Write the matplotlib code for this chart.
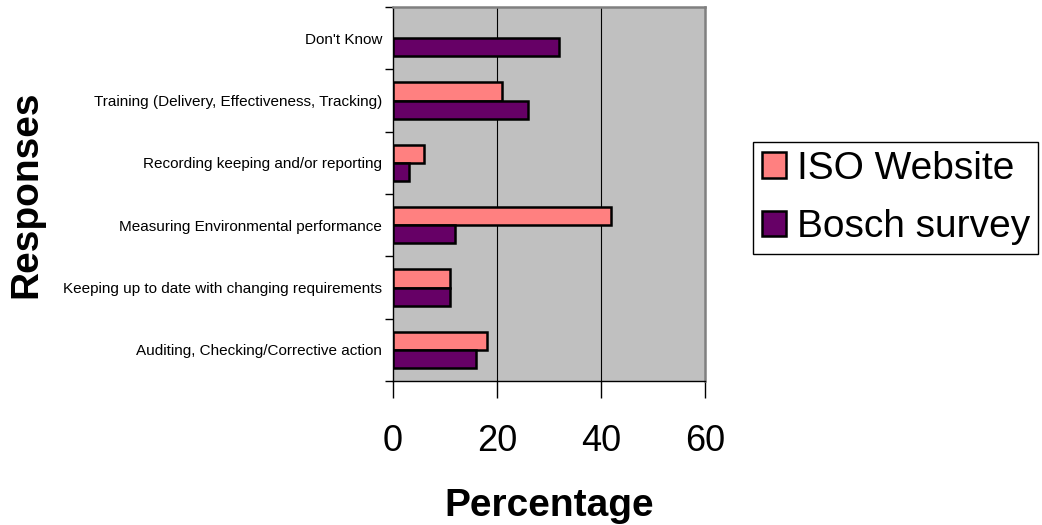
import numpy as np
import matplotlib
matplotlib.use("Agg")
import matplotlib.pyplot as plt
from matplotlib.patches import Patch

plt.rcParams['font.family'] = ['Liberation Sans', 'DejaVu Sans']

# Response categories, listed bottom to top
categories = [
    "Auditing, Checking/Corrective action",
    "Keeping up to date with changing requirements",
    "Measuring Environmental performance",
    "Recording keeping and/or reporting",
    "Training (Delivery, Effectiveness, Tracking)",
    "Don't Know",
]
iso_website = [18, 11, 42, 6, 21, np.nan]
bosch_survey = [16, 11, 12, 3, 26, 32]
series_names = ["ISO Website", "Bosch survey"]
x_ticks = [0, 20, 40, 60]

iso_color = "#FF8080"
bosch_color = "#660066"

fig = plt.figure(figsize=(10.42, 5.25), dpi=100)
W, H = 1042, 525
left, right, top, bottom = 393, 705, 7, 381
ax = fig.add_axes([left / W, 1 - bottom / H, (right - left) / W, (bottom - top) / H])
ax.set_facecolor("#C0C0C0")

y = np.arange(len(categories))
bh = 0.29
ax.barh(y + bh / 2, iso_website, height=bh, color=iso_color,
        edgecolor="black", linewidth=1.8, zorder=3)
ax.barh(y - bh / 2, bosch_survey, height=bh, color=bosch_color,
        edgecolor="black", linewidth=1.8, zorder=3)

ax.set_xlim(0, 60)
ax.set_ylim(-0.5, len(categories) - 0.5)

# vertical gridlines
for gx in x_ticks[1:-1]:
    ax.axvline(gx, color="black", linewidth=0.8, zorder=1)

# spines
for s in ("left", "bottom"):
    ax.spines[s].set_color("black")
    ax.spines[s].set_linewidth(1.0)
for s in ("top", "right"):
    ax.spines[s].set_color("#808080")
    ax.spines[s].set_linewidth(1.8)

# x axis
ax.set_xticks(x_ticks)
ax.set_xticklabels([str(v) for v in x_ticks], fontsize=26)
ax.tick_params(axis="x", direction="out", length=12, width=1.0, pad=19)

# y axis: ticks at category boundaries, labels centered between them
ax.set_yticks(np.arange(len(categories) + 1) - 0.5)
ax.set_yticklabels([])
ax.set_yticks(y, minor=True)
ax.set_yticklabels(categories, minor=True, fontsize=11)
ax.tick_params(axis="y", which="major", direction="out", length=6, width=1.0)
ax.tick_params(axis="y", which="minor", length=0, pad=8)

ax.set_xlabel("Percentage", fontsize=28, fontweight="bold")
ax.xaxis.set_label_coords(0.5, (bottom - 506) / (bottom - top))
ax.xaxis.label.set_va("center")

ax.set_ylabel("Responses", fontsize=28, fontweight="bold")
ax.yaxis.set_label_coords((26 - left) / (right - left), 0.5)
ax.yaxis.label.set_va("center")

handles = [Patch(facecolor=iso_color, edgecolor="black", linewidth=1.8),
           Patch(facecolor=bosch_color, edgecolor="black", linewidth=1.8)]
leg = fig.legend(handles, series_names, loc="upper left",
                 bbox_to_anchor=(753 / W, 1 - 142 / H),
                 fontsize=28, frameon=True, fancybox=False, framealpha=1,
                 edgecolor="black", handlelength=0.64, handleheight=0.64,
                 handletextpad=0.26, labelspacing=0.58, borderpad=0.22,
                 borderaxespad=0)
leg.get_frame().set_linewidth(1.0)

fig.savefig("out.png", dpi=100, facecolor="white")
